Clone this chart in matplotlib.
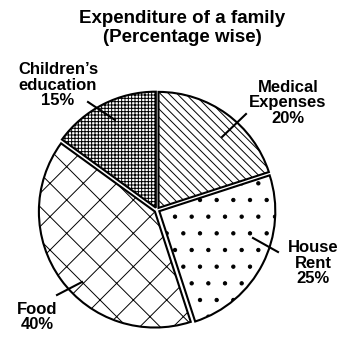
import matplotlib
matplotlib.use("Agg")
import matplotlib.pyplot as plt

categories = ["Medical\nExpenses", "House\nRent", "Food", "Children\u2019s\neducation"]
values = [20, 25, 40, 15]
hatches = ["\\\\\\\\", ".", "x", "+++++"]

plt.rcParams['font.family'] = ['Liberation Sans', 'DejaVu Sans']
plt.rcParams['hatch.linewidth'] = 0.7
plt.rcParams['hatch.color'] = 'black'

W, H = 344, 339
fig = plt.figure(figsize=(W / 100, H / 100), dpi=100)
ax = fig.add_axes([0, 0, 1, 1])

cx, cy, R = 157, 210, 116

wedges, _ = ax.pie(values, center=(cx, cy), radius=R, startangle=-90,
                   counterclock=True, explode=[2.6] * 4,
                   wedgeprops=dict(facecolor='white', edgecolor='black', linewidth=1.5),
                   frame=True)
for w, h in zip(wedges, hatches):
    w.set_hatch(h)
ax.set_xlim(0, W)
ax.set_ylim(H, 0)
ax.set_aspect('auto')
ax.axis('off')

ax.text(182, 28, "Expenditure of a family\n(Percentage wise)", ha='center', va='center',
        fontsize=13.5, fontweight='bold', linespacing=1.15)

label_pos = [(288, 103), (313, 263), (37, 317), (58, 85)]
leader = [((222, 137), (246, 114)), ((253, 238), (278, 252)),
          ((82, 282), (57, 295)), ((115, 120), (88, 102))]
for cat, v, (lx, ly), (p0, p1) in zip(categories, values, label_pos, leader):
    ax.text(lx, ly, f"{cat}\n{v}%", ha='center', va='center', fontsize=12,
            fontweight='bold', linespacing=1.05)
    ax.plot([p0[0], p1[0]], [p0[1], p1[1]], color='black', lw=1.5)

fig.savefig("out.png", dpi=100)
